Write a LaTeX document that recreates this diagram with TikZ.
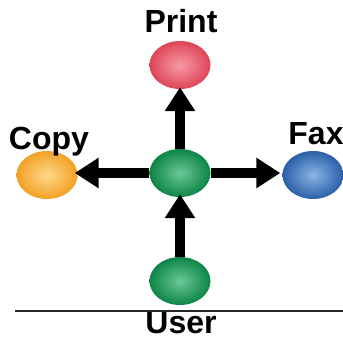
\documentclass[tikz,border=0pt]{standalone}
\usepackage{fontspec}
\setmainfont{Liberation Sans}
\usetikzlibrary{shapes.geometric,arrows.meta}
\definecolor{redin}{HTML}{F79AA5}
\definecolor{redout}{HTML}{DE4558}
\definecolor{grnin}{HTML}{6CC898}
\definecolor{grnout}{HTML}{0C8546}
\definecolor{orin}{HTML}{FFD98A}
\definecolor{orout}{HTML}{F2A024}
\definecolor{bluin}{HTML}{8AB6E6}
\definecolor{bluout}{HTML}{2A5FA8}
\begin{document}
\begin{tikzpicture}[x=1pt,y=-1pt,
  ball/.style={ellipse,minimum width=61pt,minimum height=48pt,inner sep=0pt,shading=radial},
  lbl/.style={font=\fontsize{32}{36}\selectfont\bfseries,inner sep=0pt},
  bigarrow/.style={line width=9.5pt,-{Triangle[length=24pt,width=29pt]}}]
\useasboundingbox (0,0) rectangle (343,340);
\node[ball,inner color=redin,outer color=redout] (print) at (180,65) {};
\node[ball,inner color=grnin,outer color=grnout] (hub) at (180,173) {};
\node[ball,inner color=orin,outer color=orout] (copy) at (47,175) {};
\node[ball,inner color=bluin,outer color=bluout] (fax) at (313,175) {};
\node[ball,inner color=grnin,outer color=grnout] (user) at (180,281) {};
\node[lbl] (tprint) at (181,21) {Print};
\node[lbl] (tcopy) at (49,142) {Copy};
\node[lbl] (tfax) at (316,134) {Fax};
\node[lbl] (tuser) at (181,323) {User};
\coordinate (l1) at (15,311);
\coordinate (l2) at (343,311);
\draw[line width=2pt,black!85] (l1) -- (l2);
\draw[bigarrow] (hub.north) -- ([yshift=2pt]print.south);
\draw[bigarrow] (hub.west) -- ([xshift=-3pt]copy.east |- hub.west);
\draw[bigarrow] (hub.east) -- ([xshift=-2pt]fax.west |- hub.east);
\draw[bigarrow] (user.north) -- ([yshift=3pt]hub.south);
\end{tikzpicture}
\end{document}
